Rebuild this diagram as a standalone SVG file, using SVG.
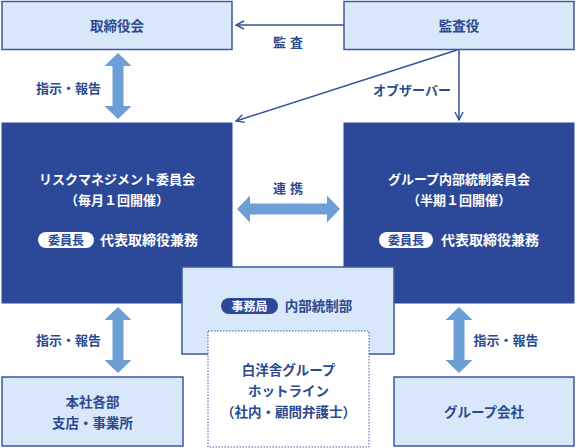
<svg xmlns="http://www.w3.org/2000/svg" width="577" height="448" viewBox="0 0 577 448">
<style>
text{font-family:"Noto Sans CJK JP","Noto Sans",sans-serif;text-anchor:middle;}
.light{fill:#d8e8fa;stroke:#3c5a9c;stroke-width:1.5;}
.dark{fill:#2c4999;stroke:#2c4999;}
.lt{fill:#2d4a8f;font-size:13.5px;font-weight:bold;}
.wt{fill:#ffffff;font-size:13px;font-weight:bold;}
.wt2{fill:#ffffff;font-size:14px;font-weight:bold;}
.lbl{fill:#2d4a8f;font-size:13px;font-weight:bold;}
.dbl{fill:#6b9fd6;}
.conn{stroke:#34509a;stroke-width:1.5;fill:none;}
.pillw{fill:#ffffff;}
.pilltxt{fill:#2c4999;font-size:12px;font-weight:bold;}
</style>
<defs>
<marker id="chev" viewBox="0 0 10 10" refX="9" refY="5" markerWidth="10" markerHeight="10" markerUnits="userSpaceOnUse" orient="auto">
<path d="M1,1 L9,5 L1,9" fill="none" stroke="#34509a" stroke-width="1.4"/>
</marker>
</defs>
<rect width="577" height="448" fill="#ffffff"/>

<g id="board">
<rect class="light" x="2" y="1.5" width="230" height="48"/>
<text class="lt" x="117" y="31">取締役会</text>
</g>
<g id="auditor">
<rect class="light" x="344" y="1.5" width="230" height="48"/>
<text class="lt" x="459" y="31">監査役</text>
</g>

<g id="risk">
<rect class="dark" x="2" y="123" width="230" height="180"/>
<text class="wt" x="117" y="184">リスクマネジメント委員会</text>
<text class="wt" x="117" y="205">（毎月１回開催）</text>
<rect class="pillw" x="38" y="232" width="56" height="16" rx="8"/>
<text class="pilltxt" x="66" y="244.5">委員長</text>
<text class="wt2" x="149" y="245">代表取締役兼務</text>
</g>

<g id="internal">
<rect class="dark" x="344" y="123" width="230" height="180"/>
<text class="wt" x="459" y="184">グループ内部統制委員会</text>
<text class="wt" x="459" y="205">（半期１回開催）</text>
<rect class="pillw" x="379" y="232" width="54" height="16" rx="8"/>
<text class="pilltxt" x="406" y="244.5">委員長</text>
<text class="wt2" x="490" y="245">代表取締役兼務</text>
</g>

<g id="secretariat">
<rect class="light" x="182" y="267" width="212" height="87"/>
<rect x="221" y="298" width="57" height="16" rx="8" fill="#2c4999"/>
<text x="249.5" y="310.5" fill="#ffffff" style="font-size:12px;font-weight:bold">事務局</text>
<text class="lt" x="318.5" y="311">内部統制部</text>
</g>

<g id="hotline">
<rect x="208" y="331" width="161" height="116" fill="#ffffff" stroke="#3c5a9c" stroke-width="1" stroke-dasharray="1.5,1.5"/>
<text class="lt" x="288.5" y="375">白洋舎グループ</text>
<text class="lt" x="288.5" y="396">ホットライン</text>
<text class="lt" x="288.5" y="417">（社内・顧問弁護士）</text>
</g>

<g id="branches">
<rect class="light" x="2" y="377" width="181" height="69"/>
<text class="lt" x="92.5" y="407">本社各部</text>
<text class="lt" x="92.5" y="428">支店・事業所</text>
</g>

<g id="group">
<rect class="light" x="394" y="377" width="180" height="69"/>
<text class="lt" x="484" y="417">グループ会社</text>
</g>

<g id="connectors">
<line class="conn" x1="344" y1="25" x2="236" y2="25" marker-end="url(#chev)"/>
<line class="conn" x1="457" y1="50" x2="236" y2="121" marker-end="url(#chev)"/>
<line class="conn" x1="459" y1="50" x2="459" y2="120" marker-end="url(#chev)"/>
<polygon class="dbl" points="118,53 131.5,66 123.5,66 123.5,106 131.5,106 118,119 104.5,106 112.5,106 112.5,66 104.5,66"/>
<polygon class="dbl" points="118,307 131.5,320 123.5,320 123.5,360 131.5,360 118,373 104.5,360 112.5,360 112.5,320 104.5,320"/>
<polygon class="dbl" points="459,307 472.5,320 464.5,320 464.5,360 472.5,360 459,373 445.5,360 453.5,360 453.5,320 445.5,320"/>
<polygon class="dbl" points="237,209 250,195.5 250,203.5 327,203.5 327,195.5 340,209 327,222.5 327,214.5 250,214.5 250,222.5"/>
<text class="lbl" x="290" y="47" style="letter-spacing:4px">監査</text>
<text class="lbl" x="412" y="95">オブザーバー</text>
<text class="lbl" x="68.5" y="93">指示・報告</text>
<text class="lbl" x="68.5" y="345">指示・報告</text>
<text class="lbl" x="506" y="345">指示・報告</text>
<text class="lbl" x="290" y="193" style="letter-spacing:4px">連携</text>
</g>
</svg>
